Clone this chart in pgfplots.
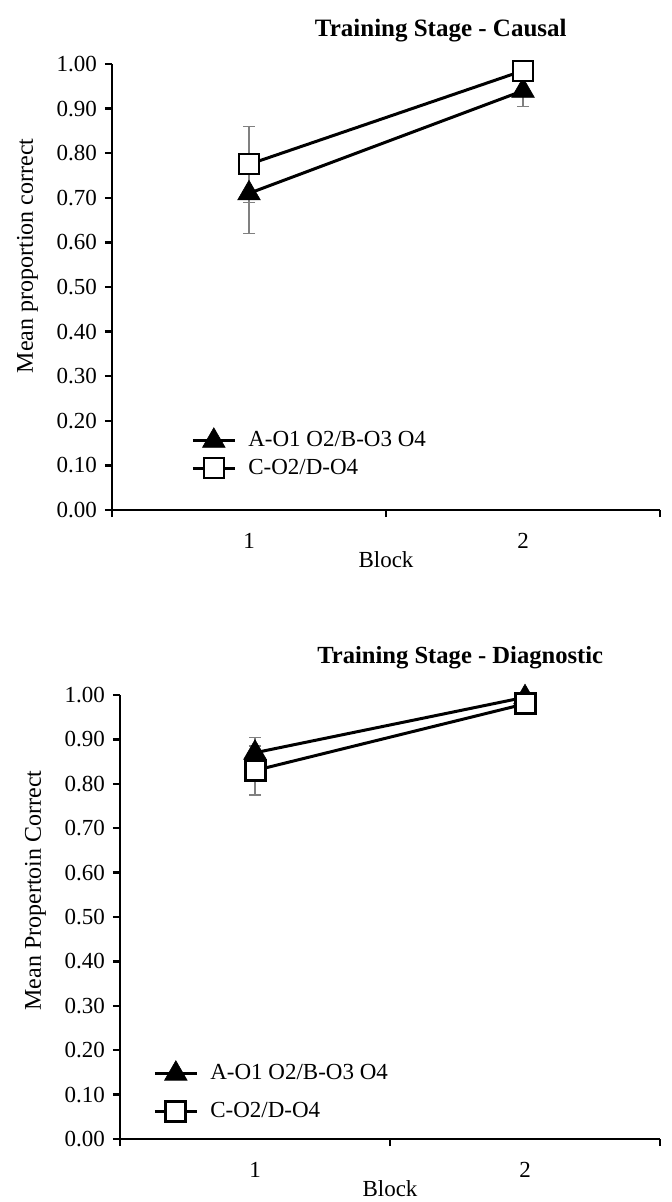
\documentclass[border=0pt]{standalone}
\usepackage{fontspec}
\setmainfont{Liberation Serif}
\usepackage{pgfplots}
\pgfplotsset{compat=1.18}

\newcommand{\chartfont}{\fontsize{11.5}{13.8}\selectfont}

\pgfplotsset{
  stage/.style={
    scale only axis,
    xmin=0.5, xmax=2.5, ymin=0, ymax=1,
    axis lines=left,
    axis line style={-, line width=1.4pt},
    tick align=outside,
    major tick length=3.5pt,
    every tick/.style={black, line width=1.2pt},
    xtick={0.5,1.5,2.5},
    x tick label as interval,
    xticklabels={1,2},
    xticklabel style={yshift=-4pt},
    ytick={0,0.1,0.2,0.3,0.4,0.5,0.6,0.7,0.8,0.9,1},
    yticklabel style={/pgf/number format/.cd, fixed, fixed zerofill, precision=2, assume math mode=true},
    font=\chartfont,
    xlabel={Block},
    xlabel style={yshift=6pt},
    ylabel style={font=\fontsize{12}{14}\selectfont},
    ylabel shift=1.5pt,
    clip=false,
    legend cell align=left,
    legend image code/.code={\draw[mark repeat=2,mark phase=2] plot coordinates {(0pt,0pt) (10.5pt,0pt) (21pt,0pt)};},
  },
  % error bars only, with horizontal caps
  ebar/.style={gray, only marks, mark=*, mark size=0.01pt, forget plot,
    error bars/.cd, y dir=both, y explicit, error mark=-,
    error bar style={solid, draw=gray, line width=0.6pt},
    error mark options={rotate=90, solid, draw=gray, line width=0.6pt, mark size=3pt}},
  tri/.style={black, line width=1.5pt, mark=triangle*, mark size=6.5pt,
    mark options={solid, fill=black, line width=0.3pt}},
  sq/.style={black, line width=1.5pt, mark=square*, mark size=5pt,
    mark options={solid, fill=white, draw=black, line width=#1}},
}

\begin{document}
\chartfont
\begin{tikzpicture}
\path[use as bounding box] (0,0) rectangle (336pt,-601pt);

% top panel
\begin{axis}[stage,
  at={(56pt,-255pt)}, anchor=south west,
  width=274pt, height=223pt,
  title={\fontsize{12.5}{15}\selectfont\textbf{Training Stage - Causal}},
  title style={at={(0.60,1)}, anchor=base, yshift=7.5pt, inner sep=0pt},
  ylabel={Mean proportion correct},
  ylabel style={at={(ticklabel cs:0.57)}},
  legend style={draw=none, fill=none, at={(0.144,0.186)}, anchor=north west,
    font=\chartfont, inner sep=0pt, row sep=0.5pt, column sep=4pt},
]
\addplot[ebar] table[y error=e] {
x y e
1 0.71 0.09
2 0.94 0.035
};
\addplot[ebar] table[y error=e] {
x y e
1 0.775 0.085
2 0.985 0.01
};
\addplot[tri] table {
x y
1 0.71
2 0.94
};
\addlegendentry{A-O1 O2/B-O3 O4}
\addplot[sq=1pt] table {
x y
1 0.775
2 0.985
};
\addlegendentry{C-O2/D-O4}
\end{axis}

% bottom panel
\begin{axis}[stage,
  at={(60pt,-569.5pt)}, anchor=south west,
  width=270pt, height=222pt,
  title={\fontsize{12.3}{15}\selectfont\textbf{Training Stage - Diagnostic}},
  title style={at={(0.63,1)}, anchor=base, yshift=10pt, inner sep=0pt},
  ylabel={Mean Propertoin Correct},
  ylabel style={at={(ticklabel cs:0.56)}},
  legend style={draw=none, fill=none, at={(0.061,0.178)}, anchor=north west,
    font=\chartfont, inner sep=0pt, row sep=5.5pt, column sep=4pt},
]
\addplot[ebar] table[y error=e] {
x y e
1 0.87 0.035
2 0.995 0.005
};
\addplot[ebar] table[y error=e] {
x y e
1 0.83 0.055
2 0.98 0.01
};
\addplot[tri] table {
x y
1 0.87
2 0.995
};
\addlegendentry{A-O1 O2/B-O3 O4}
\addplot[sq=1.5pt] table {
x y
1 0.83
2 0.98
};
\addlegendentry{C-O2/D-O4}
\end{axis}
\end{tikzpicture}
\end{document}
